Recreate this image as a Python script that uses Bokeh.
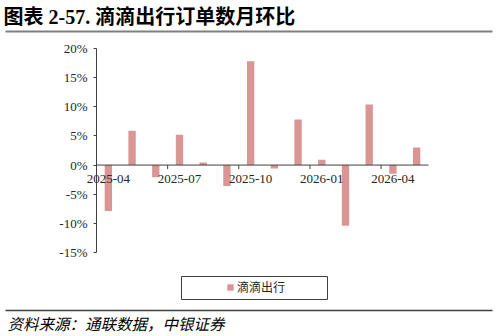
from bokeh.plotting import figure
from bokeh.models import (Range1d, LinearAxis, FixedTicker, PrintfTickFormatter, Label,
                          BoxAnnotation, Legend, LegendItem, ColumnDataSource)
from bokeh.core.properties import value
from bokeh.embed import file_html
from bokeh.resources import INLINE

# ---------------- data ----------------
months = ["2025-04", "2025-05", "2025-06", "2025-07", "2025-08", "2025-09", "2025-10",
          "2025-11", "2025-12", "2026-01", "2026-02", "2026-03", "2026-04", "2026-05"]
mom_pct = [-7.9, 5.9, -2.1, 5.2, 0.45, -3.6, 17.8, -0.6, 7.8, 0.9, -10.4, 10.4, -1.5, 3.0]
y_ticks = [-15, -10, -5, 0, 5, 10, 15, 20]
label_every = 3
series_name = "滴滴出行"
title_text = "图表 2-57. 滴滴出行订单数月环比"
source_text = "资料来源：通联数据，中银证券"

# ---------------- layout (canvas px) ----------------
W, H = 497, 336
PL, PR, PT, PB = 96, 428, 48, 252      # plot area
y_min, y_max = y_ticks[0], y_ticks[-1]
n = len(months)

def dx(px):
    return (px - PL) / (PR - PL) * n

def dy(py):
    return y_max - (py - PT) / (PB - PT) * (y_max - y_min)

BAR = "#DA9695"
AXIS = "#404040"
TXT = "#262626"
SERIF = "Liberation Serif"
CJK = "Noto Sans CJK SC"

p = figure(width=W, height=H, output_backend="svg", toolbar_location=None,
           x_range=Range1d(dx(0), dx(W)), y_range=Range1d(dy(H), dy(0)),
           x_axis_location=None, y_axis_location=None,
           min_border_left=0, min_border_right=0, min_border_top=0, min_border_bottom=0)
p.outline_line_color = None
p.grid.visible = False
p.background_fill_color = "white"
p.border_fill_color = "white"

centers = [i + 0.5 for i in range(n)]
src = ColumnDataSource(dict(x=centers, top=mom_pct, month=months))
bars = p.vbar(x="x", top="top", bottom=0, width=0.31, source=src,
              fill_color=BAR, line_color=None)

# y axis (placed at the first category edge)
yax = LinearAxis(fixed_location=0, bounds=(y_min, y_max),
                 ticker=FixedTicker(ticks=y_ticks), formatter=PrintfTickFormatter(format="%d%%"),
                 axis_line_color=AXIS, major_tick_line_color=AXIS,
                 major_tick_in=0, major_tick_out=3, minor_tick_line_color=None,
                 major_label_standoff=6, major_label_text_font=SERIF,
                 major_label_text_font_size="13px", major_label_text_color=TXT)
p.add_layout(yax, "left")

# zero line with ticks at every third category boundary
p.segment(x0=[0], y0=[0], x1=[n], y1=[0], line_color=AXIS, line_width=1)
bounds = list(range(label_every, n, label_every))
tick_len = 4 * (y_max - y_min) / (PB - PT)
p.segment(x0=bounds, y0=[0] * len(bounds), x1=bounds, y1=[-tick_len] * len(bounds),
          line_color=AXIS, line_width=1)

lab_idx = list(range(0, n, label_every))
p.text(x=[centers[i] for i in lab_idx], y=[0] * len(lab_idx), text=[months[i] for i in lab_idx],
       y_offset=14, text_align="center", text_baseline="middle",
       text_font=value(SERIF), text_font_size="13px", text_color=TXT)

# title and rule
p.add_layout(Label(x=dx(3), y=dy(16.5), text=title_text, text_align="left", text_baseline="middle",
                   text_font=SERIF + ", " + CJK, text_font_size="20px", text_font_style="bold",
                   text_color="black"))
p.segment(x0=[dx(5)], y0=[dy(31)], x1=[dx(492)], y1=[dy(31)], line_color="#7f7f7f", line_width=2)

# legend with its frame
p.add_layout(BoxAnnotation(left=dx(181), right=dx(327), top=dy(276), bottom=dy(299),
                           fill_color=None, fill_alpha=0, line_color=AXIS, line_width=1,
                           line_alpha=1))
legend = Legend(items=[LegendItem(label=series_name, renderers=[bars])],
                location=(226, H - 295), padding=0, margin=0, spacing=0,
                glyph_width=8, glyph_height=8, label_standoff=3, label_height=8,
                label_text_font=CJK, label_text_font_size="12px", label_text_color=TXT,
                border_line_color=None, background_fill_alpha=0)
p.add_layout(legend)

# footer rule and source
p.segment(x0=[dx(5)], y0=[dy(310)], x1=[dx(492)], y1=[dy(310)], line_color="#404040", line_width=1.5)
p.add_layout(Label(x=dx(7), y=dy(322), text=source_text, text_align="left", text_baseline="middle",
                   text_font=CJK, text_font_size="15.5px", text_font_style="italic",
                   text_color="black"))

open("out.html", "w").write(file_html(p, INLINE))
